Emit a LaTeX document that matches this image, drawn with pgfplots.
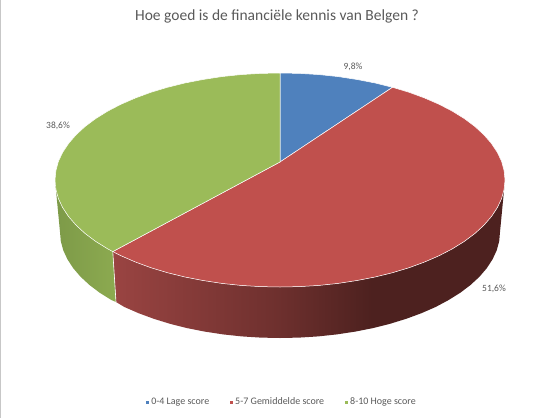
\documentclass[border=0pt]{standalone}
\usepackage{fontspec}
\setmainfont{Carlito}
\usepackage{pgfplots}
\pgfplotsset{compat=1.18}

\definecolor{piblue}{HTML}{4F81BD}
\definecolor{pired}{HTML}{C0504D}
\definecolor{pigreen}{HTML}{9BBB59}
\definecolor{txt}{HTML}{595959}
\definecolor{rsa}{HTML}{9A4442}
\definecolor{rsb}{HTML}{6E302E}
\definecolor{rsc}{HTML}{4D211F}
\definecolor{gsa}{HTML}{7D9A48}
\definecolor{gsb}{HTML}{8CAA50}

% side shadings: stops 25bp and 75bp are the left and right edge of the path
\pgfdeclarehorizontalshading{redside}{100bp}{
  color(0bp)=(rsa); color(25bp)=(rsa);
  color(46bp)=(rsb); color(58bp)=(rsc); color(100bp)=(rsc)}
\pgfdeclarehorizontalshading{greenside}{100bp}{
  color(0bp)=(gsa); color(25bp)=(gsa);
  color(75bp)=(gsb); color(100bp)=(gsb)}

\begin{document}
\begin{tikzpicture}
\useasboundingbox (0,0) rectangle (543pt,418pt);
\begin{axis}[
    scale only axis,
    width=543pt, height=418pt,
    xmin=0, xmax=543,
    ymin=0, ymax=418,
    y dir=reverse,
    hide axis,
    clip=false,
    legend columns=3,
    legend style={
        at={(axis cs:282,402)}, anchor=center,
        draw=none, fill=none,
        font=\fontsize{10}{12}\selectfont\color{txt},
        /tikz/every even column/.append style={column sep=19pt},
    },
    legend image code/.code={
        \fill[#1, draw=none] (0pt,-1.5pt) rectangle (3pt,1.5pt);
    },
]
% frame line on the left edge
\addplot[forget plot, color=black!22, line width=1.5pt] coordinates {(0.7,0) (0.7,418)};

% side of the 51,6% slice
\addplot[forget plot, shading=redside, draw=none] coordinates {
    (505,180) (504.1,189.3) (501.6,198.6) (497.3,207.7) (491.4,216.6) (483.9,225.2)
    (474.9,233.5) (464.3,241.4) (452.4,248.8) (439.1,255.7) (424.6,262) (409.1,267.7)
    (392.5,272.7) (375.1,277) (357,280.5) (338.2,283.4) (319.1,285.4) (299.6,286.6)
    (280,287) (260.4,286.6) (240.9,285.4) (221.8,283.4) (203,280.5) (184.9,277)
    (167.5,272.7) (150.9,267.7) (135.4,262) (120.9,255.7) (112.8,251.6)
    (116,302) (124.4,307) (138.6,313.2) (153.8,318.8) (170,323.8) (187,328.1)
    (204.8,331.6) (223.1,334.4) (241.8,336.4) (260.8,337.6) (280,338) (299.2,337.6)
    (318.2,336.4) (336.9,334.4) (355.2,331.6) (373,328.1) (390,323.8) (406.2,318.8)
    (421.4,313.2) (435.6,307) (448.5,300.1) (460.2,292.8) (470.5,285) (479.4,276.8)
    (486.7,268.3) (492.5,259.4) (496.7,250.4) (499.2,241.2) (500,232) (505,180)
} -- cycle;
% side of the 38,6% slice
\addplot[forget plot, shading=greenside, draw=none] coordinates {
    (112.8,251.6) (107.6,248.8) (95.7,241.4) (85.1,233.5) (76.1,225.2) (68.6,216.6)
    (62.7,207.7) (58.4,198.6) (55.9,189.3) (55,180)
    (60,232) (60.8,241.2) (63.3,250.4) (67.5,259.4) (73.3,268.3) (80.6,276.8)
    (89.5,285) (99.8,292.8) (111.5,300.1) (116,302)
} -- cycle;
% seam between the two sides
\addplot[forget plot, color=white, line width=0.6pt] coordinates {(112.8,251.6) (116,302)};

% 0-4 Lage score: 9,8%
\addplot[fill=piblue, draw=white, line width=0.5pt] coordinates {
    (280,162) (280,73) (299.6,73.4) (319.1,74.6) (338.2,76.6) (357,79.5) (375.1,83) (392.5,87.3)
} -- cycle;
\addlegendentry{0-4 Lage score}
% 5-7 Gemiddelde score: 51,6%
\addplot[fill=pired, draw=white, line width=0.5pt] coordinates {
    (280,162) (392.5,87.3) (409.1,92.3) (424.6,98) (439.1,104.3) (452.4,111.2) (464.3,118.6)
    (474.9,126.5) (483.9,134.8) (491.4,143.4) (497.3,152.3) (501.6,161.4) (504.1,170.7)
    (505,180) (504.1,189.3) (501.6,198.6) (497.3,207.7) (491.4,216.6) (483.9,225.2)
    (474.9,233.5) (464.3,241.4) (452.4,248.8) (439.1,255.7) (424.6,262) (409.1,267.7)
    (392.5,272.7) (375.1,277) (357,280.5) (338.2,283.4) (319.1,285.4) (299.6,286.6)
    (280,287) (260.4,286.6) (240.9,285.4) (221.8,283.4) (203,280.5) (184.9,277)
    (167.5,272.7) (150.9,267.7) (135.4,262) (120.9,255.7) (112.8,251.6)
} -- cycle;
\addlegendentry{5-7 Gemiddelde score}
% 8-10 Hoge score: 38,6%
\addplot[fill=pigreen, draw=white, line width=0.5pt] coordinates {
    (280,162) (112.8,251.6) (107.6,248.8) (95.7,241.4) (85.1,233.5) (76.1,225.2) (68.6,216.6)
    (62.7,207.7) (58.4,198.6) (55.9,189.3) (55,180) (55.9,170.7) (58.4,161.4) (62.7,152.3)
    (68.6,143.4) (76.1,134.8) (85.1,126.5) (95.7,118.6) (107.6,111.2) (120.9,104.3) (135.4,98)
    (150.9,92.3) (167.5,87.3) (184.9,83) (203,79.5) (221.8,76.6) (240.9,74.6) (260.4,73.4) (280,73)
} -- cycle;
\addlegendentry{8-10 Hoge score}

\node[text=txt, font=\fontsize{15.5}{18}\selectfont] at (axis cs:277,16) {Hoe goed is de financiële kennis van Belgen ?};
\node[text=txt, font=\fontsize{9.5}{11}\selectfont] at (axis cs:353,67) {9,8\%};
\node[text=txt, font=\fontsize{9.5}{11}\selectfont] at (axis cs:494,289) {51,6\%};
\node[text=txt, font=\fontsize{9.5}{11}\selectfont] at (axis cs:58,126) {38,6\%};
\end{axis}
\end{tikzpicture}
\end{document}
